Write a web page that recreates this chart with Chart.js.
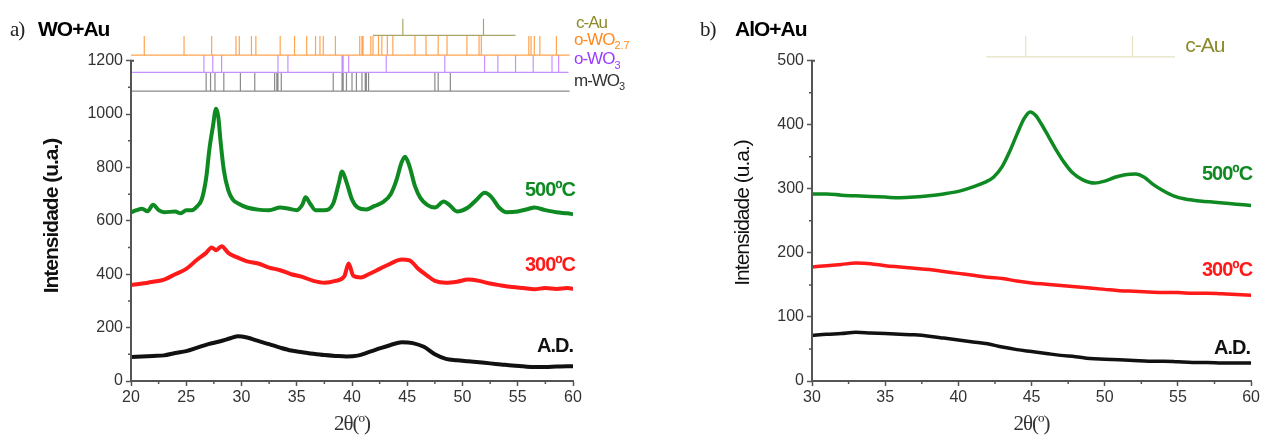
<!DOCTYPE html>
<html>
<head>
<meta charset="utf-8">
<script src="https://cdn.jsdelivr.net/npm/chart.js@4.4.1/dist/chart.umd.min.js"></script>
<style>
  html, body { margin: 0; padding: 0; background: #fff; }
  #wrap { position: relative; width: 1262px; height: 439px; }
  .panel { position: absolute; top: 0; height: 439px; }
  #panelA { left: 0; width: 640px; }
  #panelB { left: 640px; width: 622px; }
</style>
</head>
<body>
<div id="wrap">
  <div class="panel" id="panelA"><canvas id="chartA"></canvas></div>
  <div class="panel" id="panelB"><canvas id="chartB"></canvas></div>
</div>
<script>
// ---- panel a) WO+Au : 2theta (deg) and intensity (a.u.) ----
const woXTicks = [20, 25, 30, 35, 40, 45, 50, 55, 60];
const woYTicks = [0, 200, 400, 600, 800, 1000, 1200];

const wo500Theta = [20, 20.5, 21, 21.5, 22, 22.5, 23, 24, 24.5, 25, 25.5, 26, 26.4, 26.8, 27.1, 27.4, 27.7, 27.9, 28.1, 28.4, 28.8, 29.2, 29.7, 30.5, 31.5, 32.5, 33.5, 34.3, 35, 35.5, 35.8, 36.2, 36.7, 37.5, 38.3, 38.8, 39.1, 39.5, 40, 40.5, 41.3, 42, 42.8, 43.5, 44, 44.5, 44.8, 45.2, 45.7, 46.2, 46.8, 47.5, 48.3, 48.8, 49.5, 50.5, 51.3, 52, 52.6, 53.3, 54, 55, 56, 56.5, 57.5, 58.5, 59.5, 60];
const wo500I = [632, 640, 645, 636, 660, 640, 632, 635, 628, 640, 640, 655, 680, 760, 870, 950, 1020, 990, 900, 790, 715, 680, 665, 650, 642, 640, 650, 645, 640, 660, 688, 665, 640, 640, 665, 740, 785, 745, 680, 650, 642, 655, 670, 700, 750, 820, 840, 805, 730, 685, 660, 650, 672, 660, 635, 650, 680, 705, 690, 650, 632, 635, 645, 650, 640, 632, 628, 625];

const wo300Theta = [20, 21, 22, 23, 24, 25, 26, 26.8, 27.3, 27.7, 28.2, 28.8, 29.5, 30.5, 31.5, 32.5, 33.5, 34.5, 35.5, 36.5, 37.5, 38.5, 39.3, 39.7, 40.1, 40.8, 41.5, 42.5, 43.5, 44.5, 45.2, 46, 46.8, 47.5, 48.5, 49.5, 50.5, 51.5, 52.5, 53.5, 54.5, 55.5, 56.5, 57.5, 58.5, 59.5, 60];
const wo300I = [360, 365, 372, 380, 400, 420, 455, 480, 500, 490, 505, 480, 465, 448, 440, 425, 415, 400, 390, 375, 368, 375, 392, 440, 395, 388, 400, 420, 440, 455, 452, 420, 395, 375, 368, 372, 380, 375, 365, 358, 352, 348, 344, 348, 345, 348, 345];

const woAdTheta = [20, 21, 22, 23, 24, 25, 26, 27, 28, 29, 29.7, 30.5, 31.5, 32.5, 33.5, 34.5, 35.5, 36.5, 37.5, 38.5, 39.5, 40.5, 41.5, 42.5, 43.5, 44.5, 45.5, 46.5, 47.5, 48.5, 49.5, 50.5, 51.5, 52.5, 53.5, 54.5, 55.5, 56.5, 57.5, 58.5, 59.5, 60];
const woAdI = [90, 92, 94, 96, 105, 112, 125, 138, 148, 160, 168, 163, 150, 138, 125, 114, 108, 102, 97, 94, 92, 95, 108, 122, 135, 145, 142, 128, 100, 83, 78, 74, 70, 66, 62, 58, 55, 52, 52, 54, 55, 55];

// reference patterns (peak positions, 2theta)
const auPeaks = [44.6, 51.9];
const wo27Peaks = [21.2, 24.8, 27.3, 29.5, 29.8, 30.9, 31.3, 33.5, 34.8, 35.9, 36.7, 37.1, 37.4, 38.5, 40.7, 40.9, 41.0, 41.7, 41.9, 42.4, 42.7, 43.2, 43.7, 45.7, 46.7, 47.8, 48.6, 50.4, 51.5, 51.7, 56.0, 56.2, 56.5, 57.0, 58.5];
const woO3Peaks = [26.6, 27.4, 28.2, 33.3, 34.2, 39.1, 39.2, 39.7, 43.1, 48.4, 52.0, 53.2, 54.8, 56.4, 58.1, 58.7];
const woM3Peaks = [26.8, 27.2, 27.6, 28.4, 29.9, 31.2, 33.0, 33.2, 33.3, 33.6, 38.3, 39.1, 39.2, 39.5, 40.0, 40.4, 40.9, 41.2, 41.3, 41.5, 47.5, 47.8, 48.9];

// ---- panel b) AlO+Au ----
const alXTicks = [30, 35, 40, 45, 50, 55, 60];
const alYTicks = [0, 100, 200, 300, 400, 500];

const al500Theta = [30, 31, 32, 33, 34, 35, 36, 37, 38, 39, 40, 41, 41.8, 42.4, 43, 43.5, 44, 44.5, 44.9, 45.3, 45.7, 46.2, 46.7, 47.2, 47.8, 48.5, 49.3, 50, 50.7, 51.4, 52.1, 52.7, 53.3, 54, 54.7, 55.5, 56.5, 57.5, 58.5, 59.5, 60];
const al500I = [292, 292, 290, 289, 288, 287, 286, 287, 289, 292, 296, 303, 310, 318, 335, 358, 385, 410, 420, 414, 400, 380, 360, 342, 325, 314, 309, 312, 318, 322, 323, 318, 307, 297, 289, 284, 281, 279, 277, 275, 274];

const al300Theta = [30, 31, 32, 33, 34, 35, 36, 37, 38, 39, 40, 41, 42, 43, 44, 45, 46, 47, 48, 49, 50, 51, 52, 53, 54, 55, 56, 57, 58, 59, 60];
const al300I = [178, 180, 182, 184, 183, 180, 178, 176, 174, 171, 168, 165, 162, 160, 156, 153, 151, 149, 147, 145, 143, 141, 140, 139, 138, 138, 137, 137, 136, 135, 134];

const alAdTheta = al300Theta;
const alAdI = [71, 73, 74, 76, 75, 74, 73, 72, 70, 67, 64, 61, 58, 53, 49, 46, 43, 40, 38, 35, 34, 33, 32, 31, 31, 30, 29, 29, 28, 28, 28];

const FONT = '"Liberation Sans", Arial, sans-serif';
const SERIF = '"Liberation Serif", "Times New Roman", serif';

function toPoints(xs, ys) {
    return xs.map((x, i) => ({ x: x, y: ys[i] }));
}

// baseline from..to at level `base`, plus one stick per peak up to `top`
function stickPoints(peaks, from, to, base, top) {
    const pts = [{ x: from, y: base }, { x: to, y: base }, { x: to, y: null }];
    peaks.forEach(p => {
        pts.push({ x: p, y: base }, { x: p, y: top }, { x: p, y: null });
    });
    return pts;
}

function midpoints(arr) {
    const out = [];
    for (let i = 0; i < arr.length - 1; i++) out.push((arr[i] + arr[i + 1]) / 2);
    return out;
}

function curve(xs, ys, color, width) {
    return {
        data: toPoints(xs, ys),
        borderColor: color,
        borderWidth: width,
        pointRadius: 0,
        cubicInterpolationMode: 'monotone',
        fill: false
    };
}

function sticks(pts, color, width) {
    return {
        data: pts,
        borderColor: color,
        borderWidth: width,
        pointRadius: 0,
        tension: 0,
        spanGaps: false,
        fill: false
    };
}

// axis line (y only up to last labelled tick) and short minor ticks
const axisPlugin = {
    id: 'axisLines',
    afterDraw(chart, args, opts) {
        const { ctx, scales: { x, y } } = chart;
        ctx.save();
        ctx.strokeStyle = '#555';
        ctx.lineWidth = 2;
        ctx.beginPath();
        ctx.moveTo(x.left, y.getPixelForValue(0) + 1);
        ctx.lineTo(x.left, y.getPixelForValue(opts.top));
        ctx.lineTo(x.left + 3, y.getPixelForValue(opts.top));
        ctx.stroke();
        ctx.lineWidth = 1.5;
        ctx.beginPath();
        midpoints(opts.xTicks).forEach(v => {
            const px = x.getPixelForValue(v);
            ctx.moveTo(px, y.bottom);
            ctx.lineTo(px, y.bottom + 3);
        });
        midpoints(opts.yTicks).forEach(v => {
            const py = y.getPixelForValue(v);
            ctx.moveTo(x.left, py);
            ctx.lineTo(x.left - 3, py);
        });
        ctx.stroke();
        ctx.restore();
    }
};

function drawSub(ctx, x, y, main, sub, size, color) {
    ctx.fillStyle = color;
    ctx.font = size + 'px ' + FONT;
    ctx.fillText(main, x, y);
    const w = ctx.measureText(main).width;
    ctx.letterSpacing = '0px';
    ctx.font = Math.round(size * 0.65) + 'px ' + FONT;
    ctx.fillText(sub, x + w, y + size * 0.35);
    ctx.letterSpacing = '-1px';
}

function drawYTitle(ctx, cx, cy, weight) {
    ctx.save();
    ctx.translate(cx, cy);
    ctx.rotate(-Math.PI / 2);
    ctx.textAlign = 'center';
    ctx.textBaseline = 'middle';
    ctx.fillStyle = '#111';
    ctx.font = weight + ' 21px ' + FONT;
    ctx.fillText('Intensidade (u.a.)', 0, 0);
    ctx.restore();
}

function drawSeriesLabel(ctx, x, y, text, color) {
    ctx.textAlign = 'right';
    ctx.textBaseline = 'middle';
    ctx.fillStyle = color;
    ctx.font = 'bold 20px ' + FONT;
    ctx.fillText(text, x, y);
}

const labelsA = {
    id: 'labelsA',
    afterDraw(chart) {
        const { ctx, scales: { x, y } } = chart;
        ctx.save();
        ctx.letterSpacing = '-1px';
        ctx.textBaseline = 'alphabetic';
        ctx.fillStyle = '#222';
        ctx.font = '21px ' + SERIF;
        ctx.fillText('a)', 10, 36);
        ctx.fillStyle = '#000';
        ctx.font = 'bold 21px ' + FONT;
        ctx.fillText('WO+Au', 38, 36);

        drawYTitle(ctx, 52, 216, 'bold');

        ctx.textAlign = 'center';
        ctx.fillStyle = '#333';
        ctx.font = '21px ' + SERIF;
        ctx.fillText('2θ(º)', (x.left + x.right) / 2, 430);

        const rx = x.getPixelForValue(60) + 2;
        drawSeriesLabel(ctx, rx, y.getPixelForValue(712), '500ºC', '#0f8a23');
        drawSeriesLabel(ctx, rx, y.getPixelForValue(432), '300ºC', '#ff1a1a');
        drawSeriesLabel(ctx, rx - 2, y.getPixelForValue(129), 'A.D.', '#111');

        ctx.textAlign = 'left';
        ctx.textBaseline = 'middle';
        const lx = x.right + 1;
        ctx.fillStyle = '#8c8a2a';
        ctx.font = '17px ' + FONT;
        ctx.fillText('c-Au', lx + 2, y.getPixelForValue(1340));
        drawSub(ctx, lx, y.getPixelForValue(1278), 'o-WO', '2.7', 17, '#ff8a1e');
        drawSub(ctx, lx, y.getPixelForValue(1204), 'o-WO', '3', 17, '#9b3dff');
        drawSub(ctx, lx, y.getPixelForValue(1122), 'm-WO', '3', 17, '#333');
        ctx.restore();
    }
};

const labelsB = {
    id: 'labelsB',
    afterDraw(chart) {
        const { ctx, scales: { x, y } } = chart;
        ctx.save();
        ctx.letterSpacing = '-1px';
        ctx.textBaseline = 'alphabetic';
        ctx.fillStyle = '#222';
        ctx.font = '21px ' + SERIF;
        ctx.fillText('b)', 60, 36);
        ctx.fillStyle = '#000';
        ctx.font = 'bold 21px ' + FONT;
        ctx.fillText('AlO+Au', 95, 36);

        drawYTitle(ctx, 103, 213, 'normal');

        ctx.textAlign = 'center';
        ctx.fillStyle = '#333';
        ctx.font = '21px ' + SERIF;
        ctx.fillText('2θ(º)', (x.left + x.right) / 2, 430);

        const rx = x.getPixelForValue(60) + 1;
        drawSeriesLabel(ctx, rx, y.getPixelForValue(322), '500ºC', '#0f8a23');
        drawSeriesLabel(ctx, rx, y.getPixelForValue(173), '300ºC', '#ff1a1a');
        drawSeriesLabel(ctx, rx - 2, y.getPixelForValue(51), 'A.D.', '#111');

        ctx.textAlign = 'left';
        ctx.textBaseline = 'middle';
        ctx.fillStyle = '#8c8a2a';
        ctx.font = '21px ' + FONT;
        ctx.fillText('c-Au', x.getPixelForValue(55.5), y.getPixelForValue(522));
        ctx.restore();
    }
};

function scaleOptions(min, max, ticks, fitSize, isX) {
    return {
        type: 'linear',
        min: min,
        max: max,
        afterBuildTicks: scale => { scale.ticks = ticks.map(v => ({ value: v })); },
        afterFit: scale => {
            if (isX) scale.height = fitSize; else scale.width = fitSize;
        },
        border: { display: isX, color: '#555', width: 2 },
        grid: {
            drawOnChartArea: false,
            drawTicks: true,
            tickLength: 5,
            tickColor: '#555',
            tickWidth: 1.5
        },
        ticks: {
            color: '#333',
            padding: isX ? 2 : 3,
            font: { family: FONT, size: 16 },
            callback: v => v
        }
    };
}

function baseOptions(padRight, xs, ys, plugOpts) {
    return {
        responsive: true,
        maintainAspectRatio: false,
        animation: false,
        layout: { padding: { top: 8, right: padRight, left: 0, bottom: 0 } },
        plugins: {
            legend: { display: false },
            tooltip: { enabled: false },
            axisLines: plugOpts
        },
        scales: { x: xs, y: ys }
    };
}

new Chart(document.getElementById('chartA'), {
    type: 'line',
    data: {
        datasets: [
            sticks(stickPoints(auPeaks, 41.9, 54.8, 1295, 1357), '#aaa66a', 1.2),
            sticks(stickPoints(wo27Peaks, 20, 59.7, 1221, 1292), '#ffa450', 1.2),
            sticks(stickPoints(woO3Peaks, 20.1, 59.6, 1156, 1221), '#c890ff', 1.2),
            sticks(stickPoints(woM3Peaks, 20, 59.7, 1086, 1156), '#8a8a8a', 1.2),
            curve(woAdTheta, woAdI, '#111', 4),
            curve(wo300Theta, wo300I, '#ff1a1a', 4),
            curve(wo500Theta, wo500I, '#0f8a23', 4)
        ]
    },
    options: baseOptions(67,
        scaleOptions(20, 60, woXTicks, 58, true),
        scaleOptions(0, 1380, woYTicks, 131, false),
        { top: 1200, xTicks: woXTicks, yTicks: woYTicks }),
    plugins: [axisPlugin, labelsA]
});

new Chart(document.getElementById('chartB'), {
    type: 'line',
    data: {
        datasets: [
            sticks(stickPoints(auPeaks, 41.9, 54.8, 506, 539), '#e6e2c2', 1.2),
            curve(alAdTheta, alAdI, '#111', 3.5),
            curve(al300Theta, al300I, '#ff1a1a', 3.5),
            curve(al500Theta, al500I, '#0f8a23', 3.5)
        ]
    },
    options: baseOptions(10,
        scaleOptions(30, 60, alXTicks, 58, true),
        scaleOptions(0, 575, alYTicks, 172, false),
        { top: 500, xTicks: alXTicks, yTicks: alYTicks }),
    plugins: [axisPlugin, labelsB]
});
</script>
</body>
</html>
